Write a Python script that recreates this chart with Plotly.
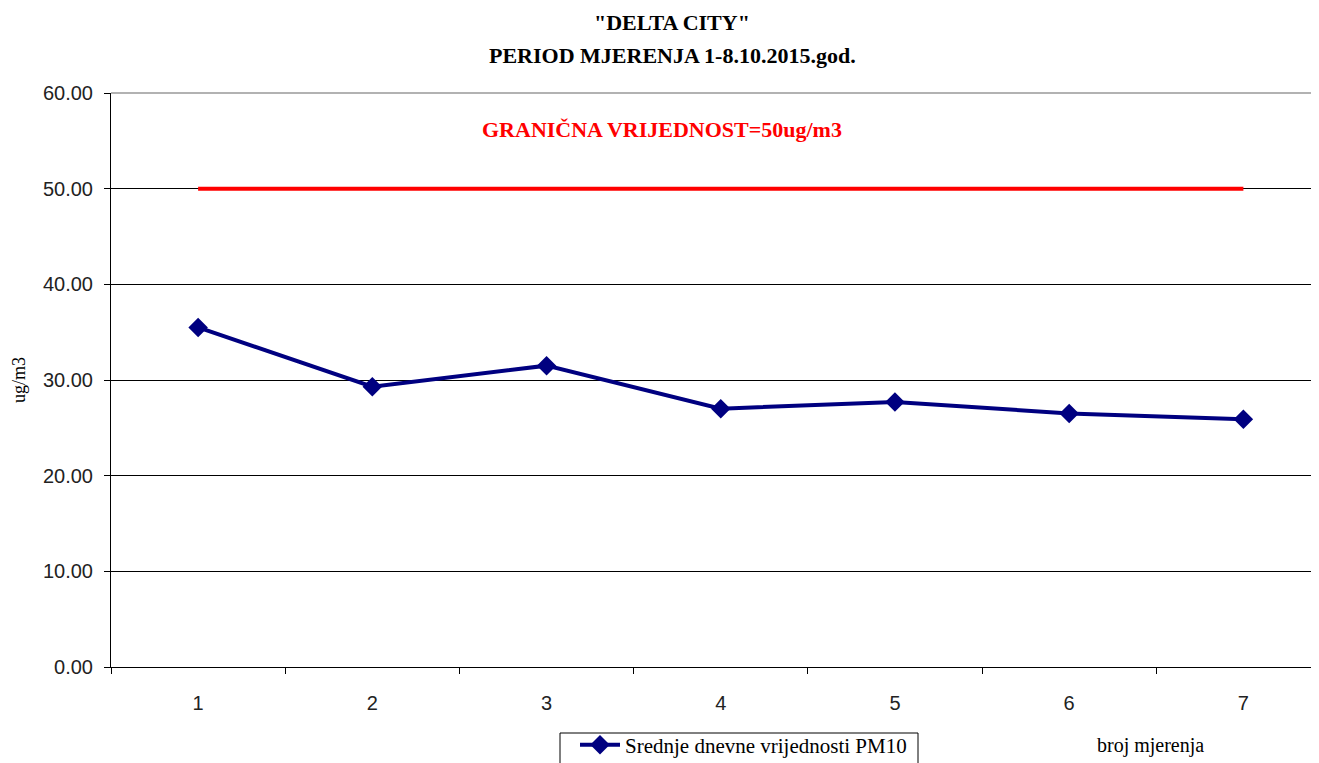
import plotly.graph_objects as go

categories = ["1", "2", "3", "4", "5", "6", "7"]
pm10 = [35.5, 29.3, 31.5, 27.0, 27.7, 26.5, 25.9]
limit = [50, 50, 50, 50, 50, 50, 50]
y_ticks = [0, 10, 20, 30, 40, 50, 60]

serif = "Liberation Serif"
sans = "Liberation Sans"

# page body has an 8px default margin; compensate so the plot sits where the reference does
PAGE_OFF = 8
W, H = 1319 - PAGE_OFF, 763 - PAGE_OFF
L, T, R = 111 - PAGE_OFF, 93 - PAGE_OFF, 0
PH = 574                 # plot height in px (93 -> 667)
B = H - T - PH
PW = W - L - R           # plot width in px
X0, Y0 = 111, 93         # reference plot-area top-left (page coords)


def px(xp):
    return (xp - X0) / PW


def py(yp):
    return 1 - (yp - Y0) / PH


fig = go.Figure()
fig.add_trace(go.Scatter(
    x=categories, y=limit, mode="lines",
    line=dict(color="#ff0000", width=4),
    showlegend=False, hoverinfo="skip",
))
fig.add_trace(go.Scatter(
    x=categories, y=pm10, mode="lines+markers",
    name="Srednje dnevne vrijednosti PM10",
    line=dict(color="#000080", width=4),
    marker=dict(symbol="diamond", size=15, color="#000080"),
))

fig.update_layout(
    width=W, height=H,
    margin=dict(l=L, r=R, t=T, b=B, pad=0, autoexpand=False),
    paper_bgcolor="white", plot_bgcolor="white",
    font=dict(family=sans, size=20, color="black"),
    showlegend=True,
    legend=dict(
        x=px(575), y=py(745), xanchor="left", yanchor="middle",
        borderwidth=0, bgcolor="rgba(0,0,0,0)",
        font=dict(family=serif, size=21, color="black"),
        itemwidth=40, tracegroupgap=0,
    ),
    xaxis=dict(
        type="category", range=[-0.5, 6.434],
        tickson="boundaries", ticks="outside", ticklen=6, tickcolor="black",
        showline=True, linecolor="black", linewidth=1,
        showgrid=False, zeroline=False,
        tickfont=dict(family=sans, size=20, color="#222"),
        ticklabelstandoff=18,
    ),
    yaxis=dict(
        range=[0, 60], tickvals=y_ticks, tickformat=".2f",
        ticks="outside", ticklen=6, tickcolor="black",
        showline=True, linecolor="black", linewidth=1,
        showgrid=True, gridcolor="black", gridwidth=1,
        zeroline=False,
        tickfont=dict(family=sans, size=20, color="#222"),
        ticklabelstandoff=7,
        title=dict(text="ug/m3", font=dict(family=serif, size=18), standoff=12),
    ),
    shapes=[
        dict(type="line", xref="paper", yref="paper", x0=0, x1=1, y0=1, y1=1,
             line=dict(color="#999999", width=1.5), layer="above"),
        # legend frame (runs off the bottom of the picture, as in the reference)
        dict(type="rect", xref="paper", yref="paper",
             x0=px(560), x1=px(918), y0=py(733), y1=py(800),
             line=dict(color="black", width=1), fillcolor="white", layer="below"),
    ],
    annotations=[
        dict(text="<b>\"DELTA CITY\"</b>", xref="paper", yref="paper",
             x=px(672), y=py(22), xanchor="center", yanchor="middle", showarrow=False,
             font=dict(family=serif, size=22, color="black")),
        dict(text="<b>PERIOD MJERENJA 1-8.10.2015.god.</b>", xref="paper", yref="paper",
             x=px(672), y=py(55), xanchor="center", yanchor="middle", showarrow=False,
             font=dict(family=serif, size=22, color="black")),
        dict(text="<b>GRANIČNA VRIJEDNOST=50ug/m3</b>", xref="paper", yref="paper",
             x=px(662), y=py(129), xanchor="center", yanchor="middle", showarrow=False,
             font=dict(family=serif, size=22, color="#ff0000")),
        dict(text="broj mjerenja", xref="paper", yref="paper",
             x=px(1150), y=py(745), xanchor="center", yanchor="middle", showarrow=False,
             font=dict(family=serif, size=20, color="black")),
    ],
)

fig.write_html("out.html")
